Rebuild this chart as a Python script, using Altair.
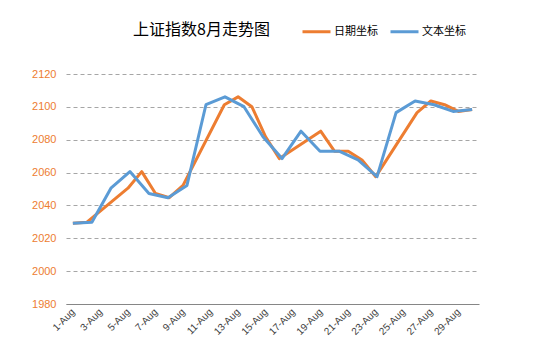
import altair as alt
import pandas as pd

# Trading days of August (day of month) and Shanghai index closes
days = [1, 2, 5, 6, 7, 8, 9, 12, 13, 14, 15, 16, 19, 20, 21, 22, 23, 26, 27, 28, 29, 30]
values = [2029.1, 2029.7, 2050.5, 2060.6, 2047.3, 2044.7, 2052.2, 2101.3, 2106.1, 2100.1,
          2081.8, 2068.5, 2085.2, 2073.0, 2073.0, 2067.7, 2057.5, 2096.5, 2103.6, 2101.3,
          2097.2, 2098.4]
series_names = ["日期坐标", "文本坐标"]
series_colors = ["#ED7D31", "#5B9BD5"]
tick_days = [1, 3, 5, 7, 9, 11, 13, 15, 17, 19, 21, 23, 25, 27, 29]
y_ticks = [1980, 2000, 2020, 2040, 2060, 2080, 2100, 2120]
chart_title = "上证指数8月走势图"

df_date = pd.DataFrame({"day": days, "value": values, "series": series_names[0]})
df_text = pd.DataFrame({"idx": list(range(len(days))), "value": values, "series": series_names[1]})
df_title = pd.DataFrame({"t": [chart_title]})

n = len(days)
span = (n - 1) / (58 / 60)
lo = -span / 60
hi = lo + span

color = alt.Color("series:N", scale=alt.Scale(domain=series_names, range=series_colors),
                  legend=alt.Legend(title=None, orient="none", direction="horizontal",
                                    legendX=235, legendY=-58, symbolType="stroke",
                                    symbolSize=784, symbolStrokeWidth=3, labelOffset=2,
                                    columnPadding=6, labelFontSize=11,
                                    labelFont="Noto Sans CJK SC", labelColor="#000000",
                                    symbolOpacity=1))

yaxis = alt.Axis(values=y_ticks, title=None, domain=False, ticks=False, format="d",
                 grid=True, gridDash=[4, 3], gridColor="#A6A6A6", gridWidth=1,
                 labelColor="#ED7D31", labelFontSize=11, labelPadding=10,
                 labelFont="Liberation Sans")
yscale = alt.Scale(domain=[1980, 2120], nice=False, zero=False)

orange = alt.Chart(df_date).mark_line(strokeWidth=3, strokeJoin="round").encode(
    x=alt.X("day:Q", scale=alt.Scale(domain=[0.5, 30.5], nice=False, zero=False),
            axis=alt.Axis(values=tick_days, title=None, labelAngle=-45, labelAlign="right",
                          labelBaseline="middle", labelExpr="datum.value + '-Aug'",
                          labelOverlap=False,
                          ticks=False, grid=False, domainColor="#868686", domainWidth=1,
                          labelColor="#404040", labelFontSize=10, labelPadding=6,
                          labelFont="Liberation Sans")),
    y=alt.Y("value:Q", scale=yscale, axis=yaxis),
    color=color,
)

blue = alt.Chart(df_text).mark_line(strokeWidth=3, strokeJoin="round").encode(
    x=alt.X("idx:Q", scale=alt.Scale(domain=[lo, hi], nice=False, zero=False), axis=None),
    y=alt.Y("value:Q", scale=yscale, axis=yaxis),
    color=color,
)

title = alt.Chart(df_title).mark_text(fontSize=16, font="Noto Sans CJK SC", color="#000000",
                                      align="left", baseline="middle").encode(
    text="t:N", x=alt.value(67), y=alt.value(-44))

chart = alt.layer(orange, blue, title).resolve_scale(x="independent").properties(
    width=413, height=230,
    autosize=alt.AutoSizeParams(type="none"),
    padding={"left": 58, "top": 66, "right": 67, "bottom": 49},
).configure(background="white").configure_view(stroke=None)

chart.save("out.html", embed_options={"renderer": "svg", "actions": False})
